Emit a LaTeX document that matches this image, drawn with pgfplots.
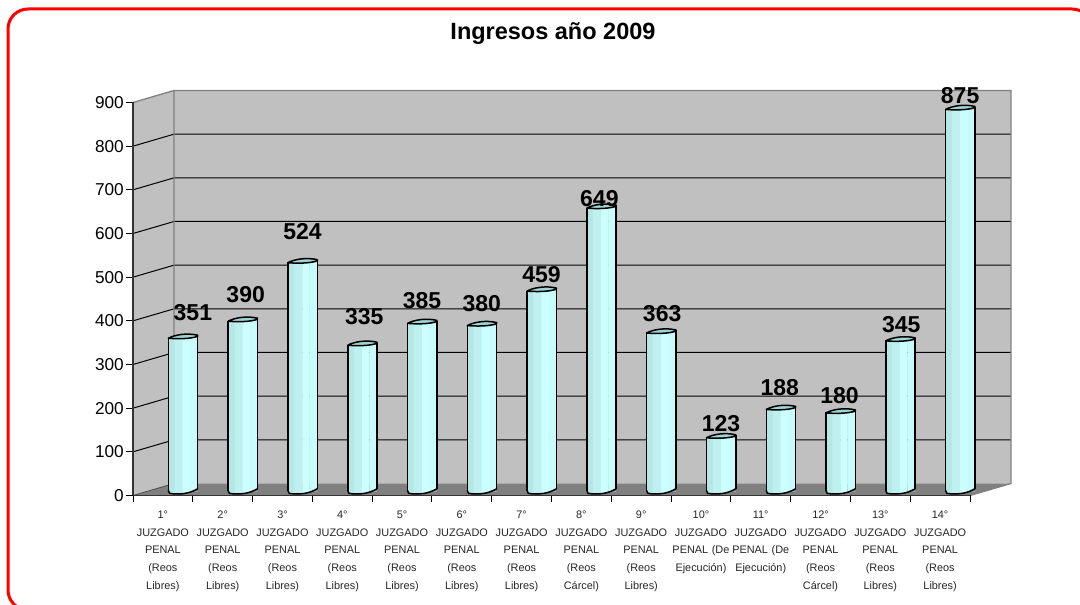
\documentclass[border=0pt]{standalone}
\usepackage{pgfplots}
\usepackage{pgfplotstable}
\pgfplotsset{compat=1.18}
\usepackage{fontspec}
\setmainfont{Liberation Sans}
\definecolor{wall}{HTML}{C0C0C0}
\definecolor{floorc}{HTML}{808080}
\definecolor{sa}{HTML}{B6E7E7}
\definecolor{sb}{HTML}{BFF0F0}
\definecolor{sc}{HTML}{CCFFFF}
\definecolor{sd}{HTML}{C8FBFB}
\definecolor{capc}{HTML}{9FD4D4}
\pgfplotstableread{
x v dx dy
1 351 10 30
2 390 3 31
3 524 0 35
4 335 2 33
5 385 0 27
6 380 0 26
7 459 0 20.5
8 649 -2 14
9 363 1 23
10 123 0 18
11 188 -1 26
12 180 -1 21
13 345 1 20
14 875 0 18
}\data
\pgfdeclareplotmark{cyltop}{%
  \pgfsetlinewidth{1.5pt}\pgfsetroundjoin
  \pgfsetfillcolor{capc}\pgfsetstrokecolor{black}
  \pgfpathmoveto{\pgfqpoint{-14.5pt}{0pt}}
  \pgfpathcurveto{\pgfqpoint{-8pt}{3.5pt}}{\pgfqpoint{4pt}{5.5pt}}{\pgfqpoint{14.8pt}{3pt}}
  \pgfpathlineto{\pgfqpoint{14.8pt}{2pt}}
  \pgfpathcurveto{\pgfqpoint{8pt}{-0.8pt}}{\pgfqpoint{-6pt}{-0.8pt}}{\pgfqpoint{-14.5pt}{0pt}}
  \pgfpathclose
  \pgfusepathqfillstroke}
\newcommand\botcurve{%
  \pgfpathmoveto{\pgfqpoint{-14.5pt}{5pt}}
  \pgfpathcurveto{\pgfqpoint{-14.5pt}{2pt}}{\pgfqpoint{-13pt}{1.7pt}}{\pgfqpoint{-10pt}{1.7pt}}
  \pgfpathcurveto{\pgfqpoint{-3pt}{1.2pt}}{\pgfqpoint{6pt}{1.5pt}}{\pgfqpoint{14.8pt}{6.7pt}}}
\newcommand\botband[3]{\pgfsetfillcolor{#1}\pgfpathrectangle{\pgfqpoint{#2pt}{0pt}}{\pgfqpoint{#3pt}{6pt}}\pgfusepathqfill}
\pgfdeclareplotmark{cylbot}{%
  \pgfsetroundjoin\pgfsetroundcap
  \begin{pgfscope}
    \botcurve\pgfpathlineto{\pgfqpoint{14.8pt}{4.3pt}}\pgfpathlineto{\pgfqpoint{-14.5pt}{4.3pt}}\pgfpathclose
    \pgfusepathqclip
    \botband{sa}{-15}{7.2}\botband{sb}{-8}{8.2}\botband{sc}{0}{7.2}\botband{sd}{7}{8.2}
  \end{pgfscope}
  \pgfsetfillcolor{floorc}
  \pgfpathmoveto{\pgfqpoint{8pt}{3.9pt}}
  \pgfpathcurveto{\pgfqpoint{10pt}{4.6pt}}{\pgfqpoint{12pt}{5.4pt}}{\pgfqpoint{14.8pt}{6.7pt}}
  \pgfpathlineto{\pgfqpoint{15.4pt}{4.4pt}}\pgfpathclose
  \pgfusepathqfill
  \pgfsetlinewidth{1.5pt}\pgfsetstrokecolor{black}
  \botcurve\pgfusepathqstroke}
\begin{document}
\begin{tikzpicture}[x=1pt,y=1pt]
\path[use as bounding box] (0,0) rectangle (1080,605);
\begin{scope}
\clip (0,0) rectangle (1080,605);
\draw[red, line width=3pt, rounded corners=20pt] (8,596) rectangle (1092,-5);
\end{scope}
\node[font=\bfseries\fontsize{23.5}{28}\selectfont, anchor=center] at (553,571) {Ingresos año 2009};
\begin{axis}[
  at={(133pt,109.5pt)}, anchor=south west,
  scale only axis, width=837pt, height=393pt,
  xmin=0.5, xmax=14.5, ymin=0, ymax=900,
  clip=false, axis on top,
  axis lines*=left, axis line style={draw=black!80, line width=1.2pt, -},
  tick style={black, line width=0.9pt},
  tick align=outside,
  ytick={0,100,...,900},
  major tick length=7pt,
  yticklabel style={font=\fontsize{17.2}{20}\selectfont, inner sep=2pt, /pgf/number format/assume math mode=true},
  xtick={1,...,14},
  major x tick style={draw=none},
  minor xtick={0.5,1.5,...,14.5},
  minor tick length=7pt,
  minor x tick style={black, line width=0.9pt},
  xticklabels={%
   {1°\\JUZGADO\\PENAL\\(Reos\\Libres)},{2°\\JUZGADO\\PENAL\\(Reos\\Libres)},
   {3°\\JUZGADO\\PENAL\\(Reos\\Libres)},{4°\\JUZGADO\\PENAL\\(Reos\\Libres)},
   {5°\\JUZGADO\\PENAL\\(Reos\\Libres)},{6°\\JUZGADO\\PENAL\\(Reos\\Libres)},
   {7°\\JUZGADO\\PENAL\\(Reos\\Libres)},{8°\\JUZGADO\\PENAL\\(Reos\\Cárcel)},
   {9°\\JUZGADO\\PENAL\\(Reos\\Libres)},{10°\\JUZGADO\\PENAL (De\\Ejecución)},
   {11°\\JUZGADO\\PENAL (De\\Ejecución)},{12°\\JUZGADO\\PENAL\\(Reos\\Cárcel)},
   {13°\\JUZGADO\\PENAL\\(Reos\\Libres)},{14°\\JUZGADO\\PENAL\\(Reos\\Libres)}},
  x tick label style={font=\fontsize{10.9}{17.7}\selectfont, align=center, text width=64pt, anchor=north, inner sep=0pt, yshift=-8pt, text=black!85},
  unbounded coords=jump,
]
% walls and floor
\addplot[fill=wall, draw=none] coordinates {(1.186,27.5)(15.186,27.5)(15.186,927.5)(1.186,927.5)} -- cycle;
\addplot[fill=wall, draw=none] coordinates {(0.5,0)(1.186,27.5)(1.186,927.5)(0.5,900)} -- cycle;
\addplot[fill=floorc, draw=none] coordinates {(0.5,0)(14.5,0)(15.186,27.5)(1.186,27.5)} -- cycle;
% grid lines
\addplot[black, line width=1pt] coordinates {
 (0.5,100)(1.186,127.5)(15.186,127.5)(1,nan)
 (0.5,200)(1.186,227.5)(15.186,227.5)(1,nan)
 (0.5,300)(1.186,327.5)(15.186,327.5)(1,nan)
 (0.5,400)(1.186,427.5)(15.186,427.5)(1,nan)
 (0.5,500)(1.186,527.5)(15.186,527.5)(1,nan)
 (0.5,600)(1.186,627.5)(15.186,627.5)(1,nan)
 (0.5,700)(1.186,727.5)(15.186,727.5)(1,nan)
 (0.5,800)(1.186,827.5)(15.186,827.5)};
% wall edges
\addplot[floorc, line width=1.3pt] coordinates {(1.186,27.5)(1.186,927.5)(15.186,927.5)(15.186,27.5)(14.5,0)};
\addplot[floorc, line width=1.3pt] coordinates {(0.5,900)(1.186,927.5)};
\addplot[black!70, line width=0.8pt] coordinates {(0.5,0)(1.186,27.5)};
% bars
\addplot[ybar, bar width=7pt, bar shift=-11pt, draw=none, fill=sa, xshift=20pt, yshift=4pt] table[x=x,y=v] {\data};
\addplot[ybar, bar width=8.3pt, bar shift=-4pt, draw=none, fill=sb, xshift=20pt, yshift=4pt] table[x=x,y=v] {\data};
\addplot[ybar, bar width=7.3pt, bar shift=3.5pt, draw=none, fill=sc, xshift=20pt, yshift=4pt] table[x=x,y=v] {\data};
\addplot[ybar, bar width=7.8pt, bar shift=10.9pt, draw=none, fill=sd, xshift=20pt, yshift=4pt] table[x=x,y=v] {\data};
\addplot[only marks, mark=cylbot, xshift=20pt] table[x=x,y expr=0] {\data};
\addplot[ycomb, black, line width=1.5pt, xshift=5.5pt, yshift=4.5pt, no marks] table[x=x,y=v] {\data};
\addplot[ycomb, black, line width=1.5pt, xshift=34.8pt, yshift=6.5pt, no marks] table[x=x,y=v] {\data};
\addplot[only marks, mark=cyltop, xshift=20pt, yshift=4pt] table[x=x,y=v] {\data};
% value labels
\addplot[draw=none, no marks, xshift=20pt,
  point meta=y,
  visualization depends on={\thisrow{dy} \as \dyv},
  visualization depends on={\thisrow{dx} \as \dxv},
  nodes near coords,
  every node near coord/.append style={font=\bfseries\fontsize{23}{26}\selectfont, anchor=center, inner sep=0pt, xshift=\dxv pt, yshift=\dyv pt, /pgf/number format/assume math mode=true},
] table[x=x,y=v] {\data};
\end{axis}
\end{tikzpicture}
\end{document}
